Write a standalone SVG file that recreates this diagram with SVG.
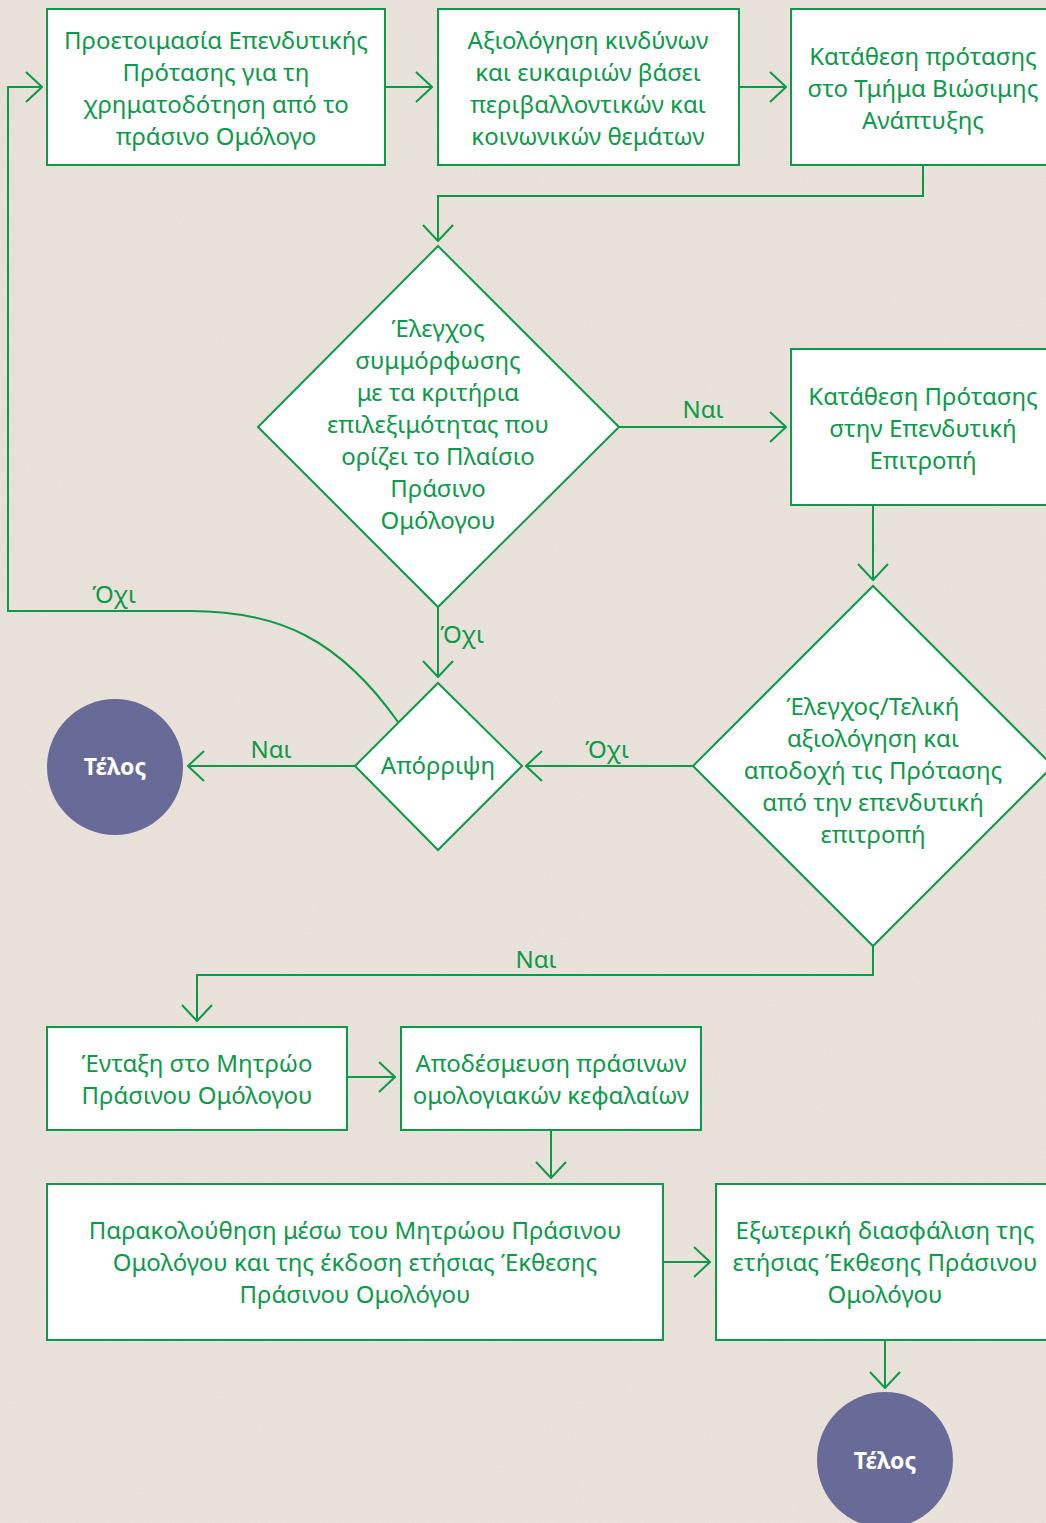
<svg xmlns="http://www.w3.org/2000/svg" width="1046" height="1523" viewBox="0 0 1046 1523">
<style>
.box{fill:#ffffff;stroke:#0a9a48;stroke-width:2}
.ln{fill:none;stroke:#0a9a48;stroke-width:2}
.t{font-family:"Noto Sans","Open Sans",sans-serif;font-size:24px;fill:#0a9a48;text-anchor:middle}
.end{fill:#686a98}
.et{font-family:"Noto Sans","Open Sans",sans-serif;font-size:23px;font-weight:bold;fill:#ffffff;text-anchor:middle}
</style>
<defs>
<marker id="ar" viewBox="0 0 18 32" refX="17" refY="16" markerWidth="18" markerHeight="32" markerUnits="userSpaceOnUse" orient="auto">
<path d="M1,1 L17,16 L1,31" fill="none" stroke="#0a9a48" stroke-width="2"/>
</marker>
<filter id="paper" x="0" y="0" width="100%" height="100%">
<feTurbulence type="fractalNoise" baseFrequency="0.9" numOctaves="2" seed="3" result="n"/>
<feColorMatrix in="n" type="matrix" values="0 0 0 0 0.55  0 0 0 0 0.48  0 0 0 0 0.42  0 0 0 0.35 -0.05"/>
</filter>
</defs>
<rect width="1046" height="1523" fill="#ebe4dc"/>
<rect width="1046" height="1523" filter="url(#paper)" opacity="0.5"/>
<g id="connectors">
<line class="ln" x1="385" y1="87" x2="432" y2="87" marker-end="url(#ar)"/>
<line class="ln" x1="739" y1="87" x2="786" y2="87" marker-end="url(#ar)"/>
<polyline class="ln" points="923,165 923,196 438,196 438,241" marker-end="url(#ar)"/>
<line class="ln" x1="619" y1="427" x2="786" y2="427" marker-end="url(#ar)"/>
<line class="ln" x1="873" y1="505" x2="873" y2="580" marker-end="url(#ar)"/>
<line class="ln" x1="438" y1="607" x2="438" y2="677" marker-end="url(#ar)"/>
<line class="ln" x1="693" y1="766" x2="526" y2="766" marker-end="url(#ar)"/>
<line class="ln" x1="355" y1="766" x2="188" y2="766" marker-end="url(#ar)"/>
<path class="ln" d="M398,722 C340,640 280,611 190,611 L8,611 L8,87 L42,87" marker-end="url(#ar)"/>
<polyline class="ln" points="873,946 873,975 197,975 197,1021" marker-end="url(#ar)"/>
<line class="ln" x1="347" y1="1077" x2="395" y2="1077" marker-end="url(#ar)"/>
<line class="ln" x1="551" y1="1130" x2="551" y2="1178" marker-end="url(#ar)"/>
<line class="ln" x1="663" y1="1262" x2="710" y2="1262" marker-end="url(#ar)"/>
<line class="ln" x1="885" y1="1340" x2="885" y2="1388" marker-end="url(#ar)"/>
<text class="t" x="703" y="418">Ναι</text>
<text class="t" x="462" y="643">Όχι</text>
<text class="t" x="607" y="758">Όχι</text>
<text class="t" x="271" y="758">Ναι</text>
<text class="t" x="114" y="603">Όχι</text>
<text class="t" x="536" y="968">Ναι</text>
</g>
<g id="n1">
<rect class="box" x="47" y="9" width="338" height="156"/>
<text class="t" x="216" y="49">Προετοιμασία Επενδυτικής</text>
<text class="t" x="216" y="81">Πρότασης για τη</text>
<text class="t" x="216" y="113">χρηματοδότηση από το</text>
<text class="t" x="216" y="145">πράσινο Ομόλογο</text>
</g>
<g id="n2">
<rect class="box" x="438" y="9" width="301" height="156"/>
<text class="t" x="588" y="49">Αξιολόγηση κινδύνων</text>
<text class="t" x="588" y="81">και ευκαιριών βάσει</text>
<text class="t" x="588" y="113">περιβαλλοντικών και</text>
<text class="t" x="588" y="145">κοινωνικών θεμάτων</text>
</g>
<g id="n3">
<rect class="box" x="791" y="9" width="264" height="156"/>
<text class="t" x="923" y="65">Κατάθεση πρότασης</text>
<text class="t" x="923" y="97">στο Τμήμα Βιώσιμης</text>
<text class="t" x="923" y="129">Ανάπτυξης</text>
</g>
<g id="n4">
<polygon class="box" points="438,246 619,427 438,607 258,427"/>
<text class="t" x="438" y="337">Έλεγχος</text>
<text class="t" x="438" y="369">συμμόρφωσης</text>
<text class="t" x="438" y="401">με τα κριτήρια</text>
<text class="t" x="438" y="433">επιλεξιμότητας που</text>
<text class="t" x="438" y="465">ορίζει το Πλαίσιο</text>
<text class="t" x="438" y="497">Πράσινο</text>
<text class="t" x="438" y="529">Ομόλογου</text>
</g>
<g id="n5">
<rect class="box" x="791" y="349" width="264" height="156"/>
<text class="t" x="923" y="405">Κατάθεση Πρότασης</text>
<text class="t" x="923" y="437">στην Επενδυτική</text>
<text class="t" x="923" y="469">Επιτροπή</text>
</g>
<g id="n6">
<polygon class="box" points="873,586 1053,766 873,946 693,766"/>
<text class="t" x="873" y="715">Έλεγχος/Τελική</text>
<text class="t" x="873" y="747">αξιολόγηση και</text>
<text class="t" x="873" y="779">αποδοχή τις Πρότασης</text>
<text class="t" x="873" y="811">από την επενδυτική</text>
<text class="t" x="873" y="843">επιτροπή</text>
</g>
<g id="n7">
<polygon class="box" points="438,683 522,766 438,850 355,766"/>
<text class="t" x="438" y="774">Απόρριψη</text>
</g>
<g id="n8">
<circle class="end" cx="115" cy="767" r="68"/>
<text class="et" x="115" y="775">Τέλος</text>
</g>
<g id="n9">
<rect class="box" x="47" y="1027" width="300" height="103"/>
<text class="t" x="197" y="1072">Ένταξη στο Μητρώο</text>
<text class="t" x="197" y="1104">Πράσινου Ομόλογου</text>
</g>
<g id="n10">
<rect class="box" x="401" y="1027" width="300" height="103"/>
<text class="t" x="551" y="1072">Αποδέσμευση πράσινων</text>
<text class="t" x="551" y="1104">ομολογιακών κεφαλαίων</text>
</g>
<g id="n11">
<rect class="box" x="47" y="1184" width="616" height="156"/>
<text class="t" x="355" y="1239">Παρακολούθηση μέσω του Μητρώου Πράσινου</text>
<text class="t" x="355" y="1271">Ομολόγου και της έκδοση ετήσιας Έκθεσης</text>
<text class="t" x="355" y="1303">Πράσινου Ομολόγου</text>
</g>
<g id="n12">
<rect class="box" x="716" y="1184" width="339" height="156"/>
<text class="t" x="885" y="1239">Εξωτερική διασφάλιση της</text>
<text class="t" x="885" y="1271">ετήσιας Έκθεσης Πράσινου</text>
<text class="t" x="885" y="1303">Ομολόγου</text>
</g>
<g id="n13">
<circle class="end" cx="885" cy="1460" r="68"/>
<text class="et" x="885" y="1469">Τέλος</text>
</g>
</svg>
